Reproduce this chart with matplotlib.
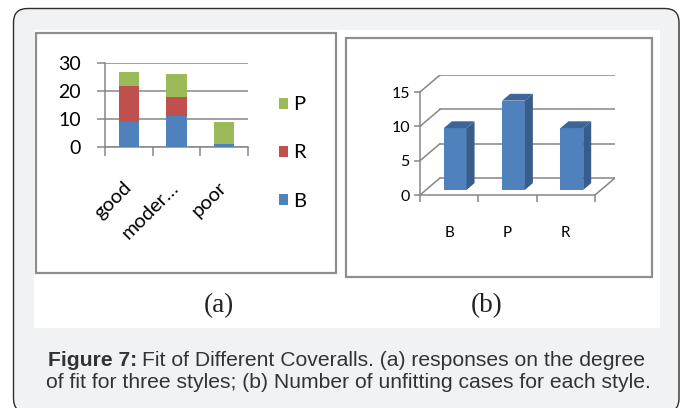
import numpy as np
import matplotlib.pyplot as plt
from matplotlib.patches import FancyBboxPatch, Rectangle, Polygon

W, H = 685, 408

# (a) responses on degree of fit, stacked by style
fit_levels = ['good', 'moder\u2026', 'poor']
fit_B = [9, 11, 1]
fit_R = [13, 7, 0]
fit_P = [5, 8, 8]

# (b) unfitting cases per style
styles = ['B', 'P', 'R']
unfit = [9, 13, 9]

blue, red, green = '#4F81BD', '#C0504D', '#9BBB59'
grid_c = '#868686'
sans = ['Lato', 'DejaVu Sans']

fig = plt.figure(figsize=(W / 100, H / 100), dpi=100)

# background in pixel coordinates
bg = fig.add_axes([0, 0, 1, 1])
bg.set_xlim(0, W)
bg.set_ylim(H, 0)
bg.axis('off')
bg.add_patch(FancyBboxPatch((13.5, 8.5), 665.5, 404, boxstyle='round,pad=0,rounding_size=14',
                            fc='#f1f2f4', ec='#2e2e2e', lw=1.0))
bg.add_patch(Rectangle((34, 30), 626, 298, fc='white', ec='none'))
bg.add_patch(Rectangle((36.5, 32.5), 300, 240, fill=False, ec='#8e8e8e', lw=1.6))
bg.add_patch(Rectangle((346.5, 37.5), 306, 239, fill=False, ec='#8e8e8e', lw=1.6))

# ---- panel (a) ----
ax = fig.add_axes([105 / W, 1 - 146.7 / H, 143 / W, 83.4 / H])
ax.patch.set_alpha(0)
x = np.arange(len(fit_levels))
bw = 0.42
bB = ax.bar(x, fit_B, bw, color=blue, zorder=3)
bR = ax.bar(x, fit_R, bw, bottom=fit_B, color=red, zorder=3)
bP = ax.bar(x, fit_P, bw, bottom=np.add(fit_B, fit_R), color=green, zorder=3)
ax.set_xlim(-0.5, 2.5)
ax.set_ylim(0, 30)
ax.set_yticks([0, 10, 20, 30])
ax.yaxis.grid(True, color=grid_c, lw=1.1)
ax.set_axisbelow(True)
for s in ['top', 'right']:
    ax.spines[s].set_visible(False)
for s in ['left', 'bottom']:
    ax.spines[s].set_color(grid_c)
    ax.spines[s].set_linewidth(1.1)
ax.set_xticks(x + 0.12, fit_levels, rotation=45, ha='right', fontfamily=sans)
ax.set_xticks([-0.5, 0.5, 1.5, 2.5], minor=True)
ax.tick_params(axis='x', which='major', length=0, pad=23, labelsize=14.5)
ax.tick_params(axis='x', which='minor', length=6.5, width=1.1, color=grid_c)
ax.tick_params(axis='y', length=5.5, width=1.1, color=grid_c, pad=12, labelsize=14)
for t in ax.get_yticklabels():
    t.set_fontfamily(sans)
ax.legend([bP, bR, bB], ['P', 'R', 'B'], loc='center left',
          bbox_to_anchor=(279 / W, 1 - 153 / H), bbox_transform=fig.transFigure,
          frameon=False, prop={'family': sans, 'size': 14.5},
          handlelength=0.47, handleheight=0.47, handletextpad=0.25,
          labelspacing=1.55, borderpad=0, borderaxespad=0)

# ---- panel (b): pseudo-3D column chart ----
cat_px = 175 / 3
unit_px = 103 / 15
dx = 20 / cat_px
dy = 17 / unit_px
ax2 = fig.add_axes([420 / W, 1 - 195 / H, (3 + dx) * cat_px / W, (15 + dy) * unit_px / H])
ax2.patch.set_alpha(0)
ax2.set_xlim(-0.5, 2.5 + dx)
ax2.set_ylim(0, 15 + dy)
yt = [0, 5, 10, 15]
for v in yt:
    ax2.plot([-0.5 + dx, 2.5 + dx], [v + dy, v + dy], color=grid_c, lw=1.1, zorder=1)
    ax2.plot([-0.5, -0.5 + dx], [v, v + dy], color=grid_c, lw=1.1, zorder=1)
ax2.plot([2.5, 2.5 + dx], [0, dy], color=grid_c, lw=1.1, zorder=1)
for s in ['top', 'right']:
    ax2.spines[s].set_visible(False)
for s in ['left', 'bottom']:
    ax2.spines[s].set_color(grid_c)
    ax2.spines[s].set_linewidth(1.1)
ax2.spines['left'].set_bounds(0, 15)
ax2.spines['bottom'].set_bounds(-0.5, 2.5)

xb = np.arange(len(styles))
f0, f1 = 0.3, 0.7
w2 = 0.39
ax2.bar(xb + f0 * dx, unfit, w2, bottom=f0 * dy, color=blue, zorder=3)
for xi, v in zip(xb, unfit):
    xl = xi + f0 * dx - w2 / 2
    xr = xi + f0 * dx + w2 / 2
    ddx = (f1 - f0) * dx
    side = [(xr, f0 * dy), (xr + ddx, f1 * dy), (xr + ddx, v + f1 * dy), (xr, v + f0 * dy)]
    top = [(xl, v + f0 * dy), (xr, v + f0 * dy), (xr + ddx, v + f1 * dy), (xl + ddx, v + f1 * dy)]
    ax2.add_patch(Polygon(side, closed=True, fc='#385D8A', ec='none', zorder=3))
    ax2.add_patch(Polygon(top, closed=True, fc='#3D6696', ec='none', zorder=3))

ax2.set_yticks(yt)
ax2.set_xticks(xb, styles, fontfamily=sans)
ax2.set_xticks([-0.5, 0.5, 1.5, 2.5], minor=True)
ax2.tick_params(axis='x', which='major', length=0, pad=22, labelsize=11)
ax2.tick_params(axis='x', which='minor', length=5, width=1.1, color=grid_c)
ax2.tick_params(axis='y', length=4.3, width=1.1, color=grid_c, pad=3, labelsize=11.5)
for t in ax2.get_yticklabels():
    t.set_fontfamily(sans)

# ---- panel letters and caption ----
fig.text(219 / W, 1 - 306 / H, '(a)', ha='center', va='center',
         family='Liberation Serif', fontsize=19.5, color='#222222')
fig.text(487 / W, 1 - 306 / H, '(b)', ha='center', va='center',
         family='Liberation Serif', fontsize=19.5, color='#222222')

cap = '#333333'
cap_font = ['Liberation Sans Narrow', 'Liberation Sans']
fs = 15.2
t1 = fig.text(48 / W, 1 - 360 / H, 'Figure 7:', ha='left', va='center',
              family=cap_font, weight='bold', fontsize=fs, color=cap)
r = fig.canvas.get_renderer()
bb = t1.get_window_extent(r)
fig.text(bb.x1 / W + 5 / W, 1 - 360 / H, 'Fit of Different Coveralls. (a) responses on the degree',
         ha='left', va='center', family=cap_font, fontsize=fs, color=cap)
fig.text(46 / W, 1 - 383 / H, 'of fit for three styles; (b) Number of unfitting cases for each style.',
         ha='left', va='center', family=cap_font, fontsize=fs, color=cap)

fig.savefig('out.png', dpi=100)
